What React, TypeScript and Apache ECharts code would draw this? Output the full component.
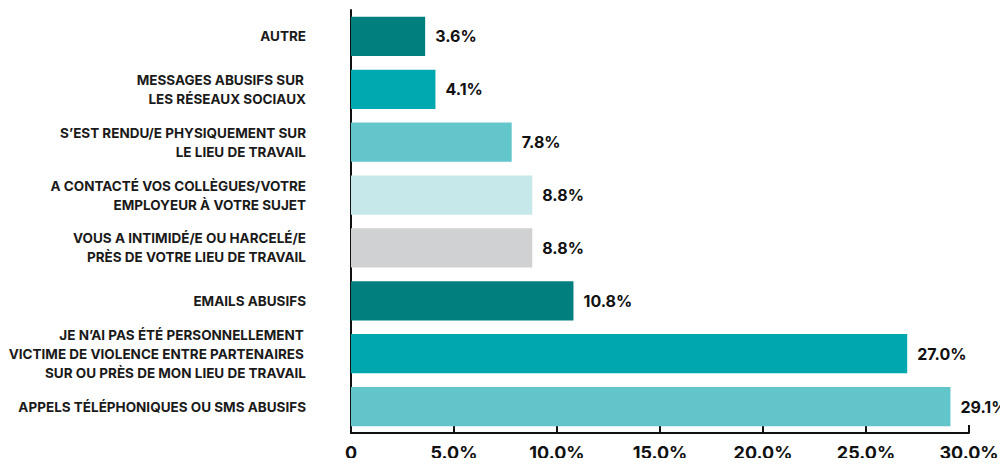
import React, { useEffect, useRef } from "react";
import * as echarts from "echarts";

const categories = [
  "AUTRE",
  "MESSAGES ABUSIFS SUR\u2009\nLES RÉSEAUX SOCIAUX",
  "S’EST RENDU/E PHYSIQUEMENT SUR\nLE LIEU DE TRAVAIL",
  "A CONTACTÉ VOS COLLÈGUES/VOTRE\nEMPLOYEUR À VOTRE SUJET",
  "VOUS A INTIMIDÉ/E OU HARCELÉ/E\nPRÈS DE VOTRE LIEU DE TRAVAIL",
  "EMAILS ABUSIFS",
  "JE N’AI PAS ÉTÉ PERSONNELLEMENT\u2009\nVICTIME DE VIOLENCE ENTRE PARTENAIRES\u2009\nSUR OU PRÈS DE MON LIEU DE TRAVAIL",
  "APPELS TÉLÉPHONIQUES OU SMS ABUSIFS",
];
const values = [3.6, 4.1, 7.8, 8.8, 8.8, 10.8, 27.0, 29.1];
const barColors = [
  "#007f7f",
  "#00a9b0",
  "#62c6cb",
  "#c6e8ea",
  "#d0d1d3",
  "#007f7e",
  "#00a8ae",
  "#61c5ca",
];
const tickLabels = ["0", "5.0%", "10.0%", "15.0%", "20.0%", "25.0%", "30.0%"];

export default function App() {
  const ref = useRef<HTMLDivElement>(null);
  useEffect(() => {
    if (!ref.current) return;
    const chart = echarts.init(ref.current, null, { renderer: "svg" });
    const font = "Inter, 'Noto Sans', sans-serif";
    chart.setOption({
      animation: false,
      grid: {
        left: 351,
        right: 39,
        top: 10,
        bottom: 33,
        containLabel: false,
        outerBoundsMode: "none",
      },
      xAxis: {
        type: "value",
        min: 0,
        max: 30,
        interval: 5,
        splitLine: { show: false },
        axisLine: { show: true, lineStyle: { color: "#111", width: 2 } },
        axisTick: { show: true, inside: true, length: 8, lineStyle: { color: "#111", width: 2 } },
        axisLabel: {
          margin: 10,
          color: "#111",
          fontFamily: font,
          fontWeight: 700,
          fontSize: 18,
          formatter: (v: number) => tickLabels[Math.round(v / 5)],
        },
      },
      yAxis: {
        type: "category",
        inverse: true,
        data: categories,
        axisLine: { show: true, lineStyle: { color: "#111", width: 2 } },
        axisTick: { show: false },
        axisLabel: {
          margin: 45,
          color: "#1a1a1a",
          fontFamily: font,
          fontWeight: 700,
          fontSize: 13.5,
          lineHeight: 19,
          align: "right",
        },
      },
      series: [
        {
          type: "bar",
          data: values.map((v, i) => ({ value: v, itemStyle: { color: barColors[i] } })),
          barCategoryGap: "26%",
          label: {
            show: true,
            position: "right",
            distance: 10,
            color: "#111",
            fontFamily: font,
            fontWeight: 700,
            fontSize: 16,
            formatter: (p: any) => p.value.toFixed(1) + "%",
          },
        },
      ],
    });
    return () => chart.dispose();
  }, []);
  return <div ref={ref} style={{ width: 1008, height: 466, margin: -8 }} />;
}
